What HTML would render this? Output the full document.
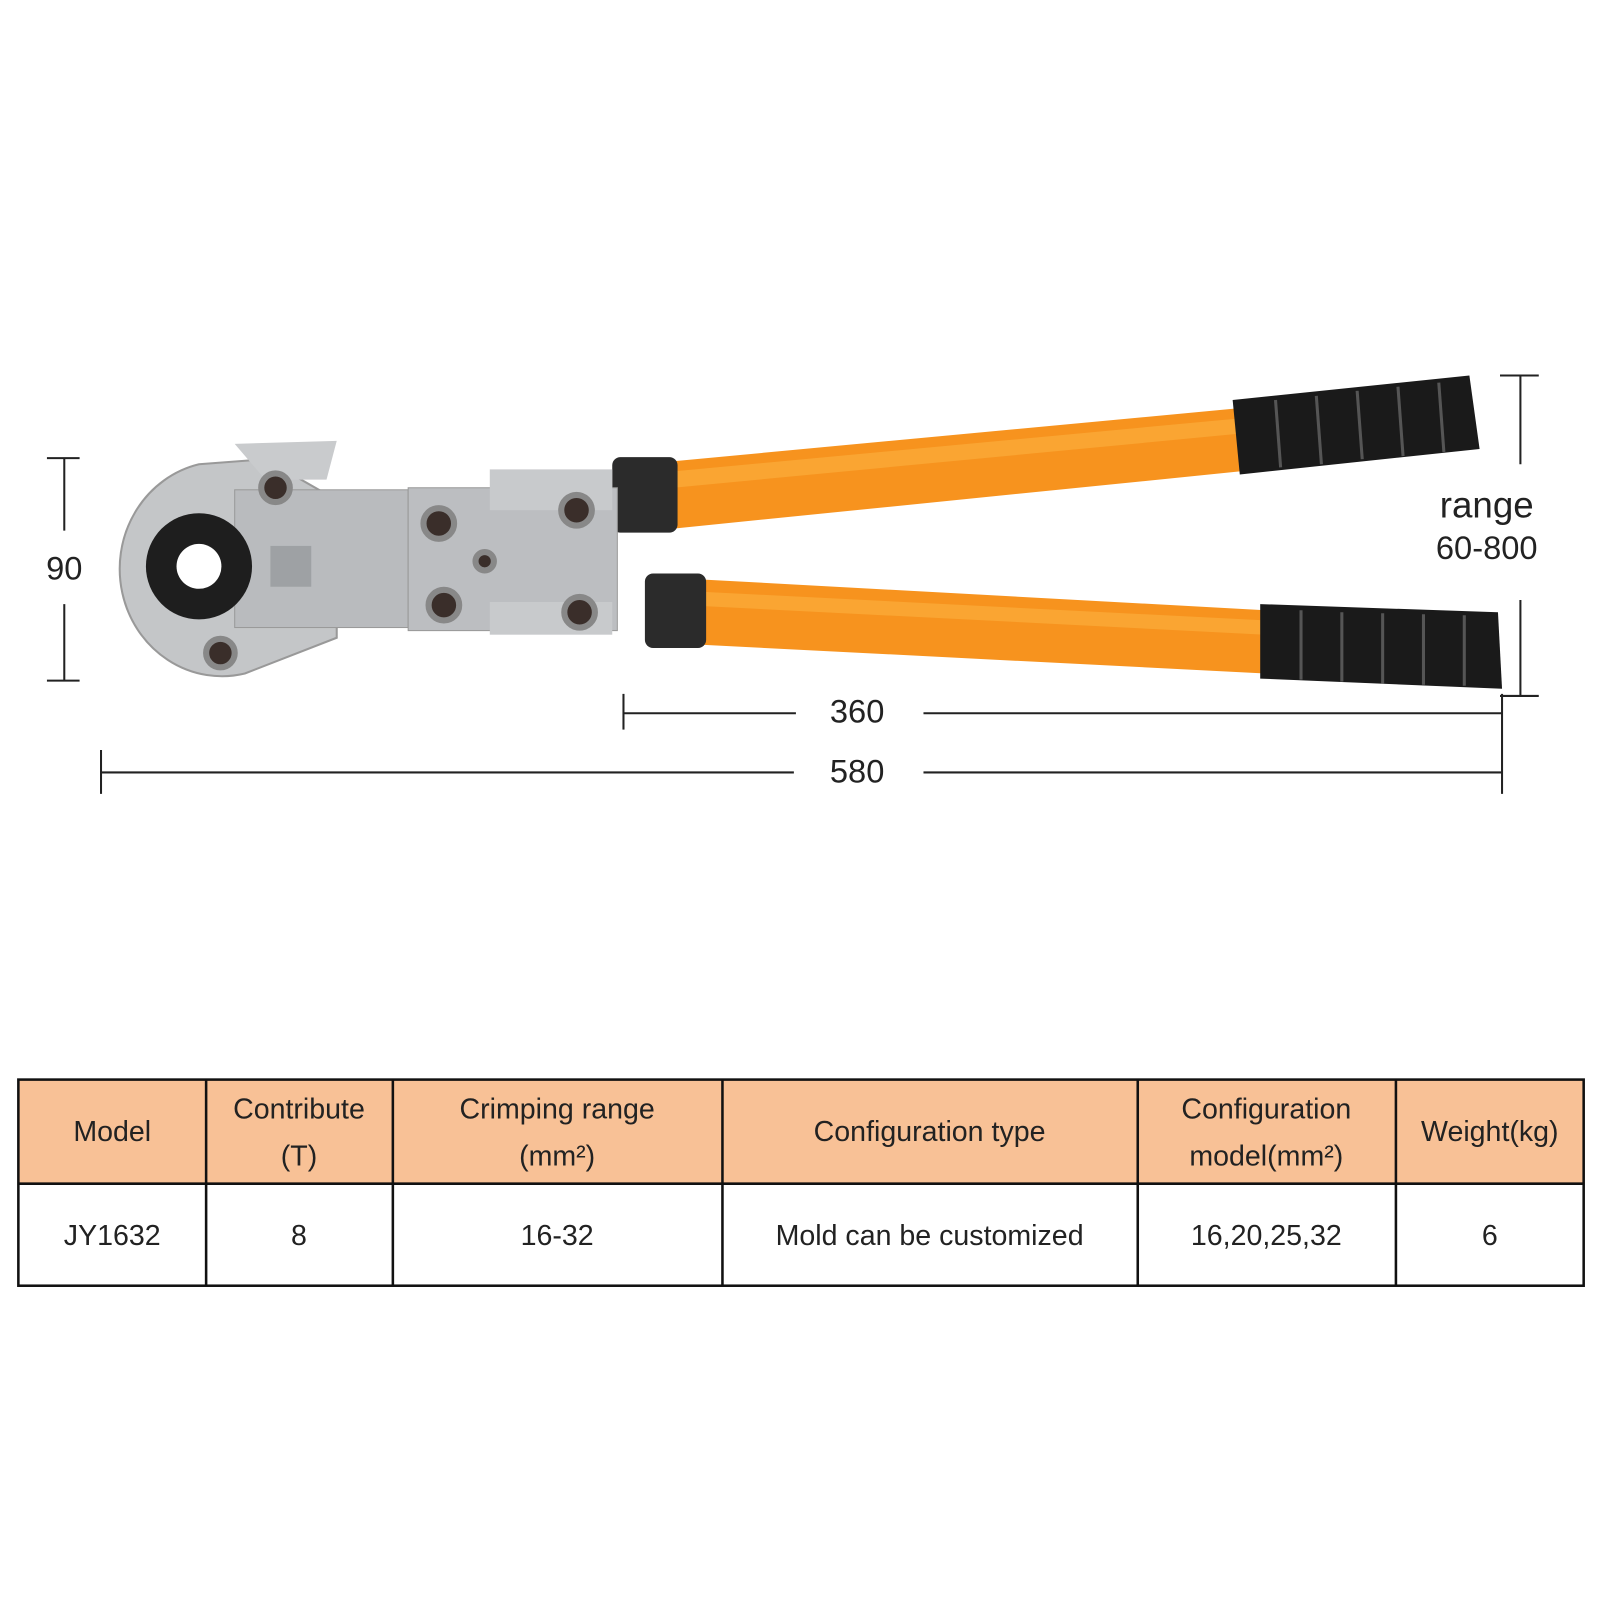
<!DOCTYPE html>
<html><head><meta charset="utf-8"><style>html,body{margin:0;padding:0;background:#fff}svg{display:block}</style></head>
<body>
<svg width="1600" height="1600" viewBox="0 0 1568 1568" xmlns="http://www.w3.org/2000/svg" font-family="Liberation Sans, sans-serif">
<rect width="1568" height="1568" fill="#fff"/>
<!-- dimension lines -->
<g stroke="#222" stroke-width="2" fill="none">
<line x1="63" y1="449" x2="63" y2="520"/><line x1="63" y1="592" x2="63" y2="667"/>
<line x1="46" y1="449" x2="78" y2="449"/><line x1="46" y1="667" x2="78" y2="667"/>
<line x1="1490" y1="368" x2="1490" y2="455"/><line x1="1490" y1="588" x2="1490" y2="682"/>
<line x1="1470" y1="368" x2="1508" y2="368"/><line x1="1470" y1="682" x2="1508" y2="682"/>
<line x1="611" y1="680" x2="611" y2="715"/><line x1="611" y1="699" x2="780" y2="699"/><line x1="905" y1="699" x2="1472" y2="699"/>
<line x1="1472" y1="680" x2="1472" y2="778"/>
<line x1="99" y1="735" x2="99" y2="778"/><line x1="99" y1="757" x2="778" y2="757"/><line x1="905" y1="757" x2="1472" y2="757"/>
</g>
<g fill="#222" font-size="32" text-anchor="middle">
<text x="63" y="568">90</text>
<text x="840" y="708">360</text>
<text x="840" y="767">580</text>
<text x="1457" y="507" font-size="36">range</text>
<text x="1457" y="548">60-800</text>
</g>
<!-- handles -->
<polygon points="660,452 1215,400 1215,462 660,518" fill="#f7931e"/>
<polygon points="660,462 1215,410 1215,425 660,478" fill="#fbb040" opacity="0.6"/>
<polygon points="1208,392 1440,368 1450,440 1215,465" fill="#1a1a1a"/>
<rect x="600" y="448" width="64" height="74" rx="8" fill="#2b2b2b"/>
<polygon points="690,568 1240,598 1240,660 690,632" fill="#f7931e"/>
<polygon points="690,580 1240,608 1240,622 690,594" fill="#fbb040" opacity="0.6"/>
<polygon points="1235,592 1468,600 1472,675 1235,665" fill="#1a1a1a"/>
<rect x="632" y="562" width="60" height="73" rx="8" fill="#2b2b2b"/>
<g stroke="#555" stroke-width="3">
<line x1="1250" y1="392" x2="1255" y2="458"/><line x1="1290" y1="388" x2="1295" y2="455"/><line x1="1330" y1="383" x2="1335" y2="450"/><line x1="1370" y1="379" x2="1375" y2="447"/><line x1="1410" y1="375" x2="1415" y2="443"/>
<line x1="1275" y1="598" x2="1275" y2="666"/><line x1="1315" y1="600" x2="1315" y2="668"/><line x1="1355" y1="601" x2="1355" y2="670"/><line x1="1395" y1="602" x2="1395" y2="671"/><line x1="1435" y1="603" x2="1435" y2="672"/>
</g>
<!-- metal head -->
<path d="M195,455 A100,105 0 1 0 240,660 L330,625 L330,490 L260,450 Z" fill="#c4c6c8" stroke="#999" stroke-width="2"/>
<polygon points="230,435 330,432 320,470 260,470" fill="#c9cbcd"/>
<rect x="230" y="480" width="170" height="135" fill="#b9bbbe" stroke="#999"/>
<rect x="265" y="535" width="40" height="40" fill="#9ea1a4"/>
<rect x="400" y="478" width="205" height="140" fill="#bcbec1" stroke="#999"/>
<rect x="480" y="460" width="120" height="40" fill="#c8cacc"/>
<rect x="480" y="590" width="120" height="32" fill="#c8cacc"/>
<circle cx="195" cy="555" r="52" fill="#1e1e1e"/>
<circle cx="195" cy="555" r="22" fill="#fff"/>
<g fill="#3a2e2a" stroke="#888" stroke-width="6">
<circle cx="270" cy="478" r="14"/><circle cx="216" cy="640" r="14"/>
<circle cx="430" cy="513" r="15"/><circle cx="565" cy="500" r="15"/>
<circle cx="435" cy="593" r="15"/><circle cx="568" cy="600" r="15"/>
<circle cx="475" cy="550" r="9"/>
</g>
<!-- table -->
<rect x="18" y="1058" width="1534" height="102" fill="#f8c196"/>
<g stroke="#111" stroke-width="2.5" fill="none">
<rect x="18" y="1058" width="1534" height="202"/>
<line x1="18" y1="1160" x2="1552" y2="1160"/>
<line x1="202" y1="1058" x2="202" y2="1260"/><line x1="385" y1="1058" x2="385" y2="1260"/>
<line x1="708" y1="1058" x2="708" y2="1260"/><line x1="1115" y1="1058" x2="1115" y2="1260"/>
<line x1="1368" y1="1058" x2="1368" y2="1260"/>
</g>
<g fill="#222" font-size="28" text-anchor="middle">
<text x="110" y="1118">Model</text>
<text x="293" y="1096">Contribute</text><text x="293" y="1142">(T)</text>
<text x="546" y="1096">Crimping range</text><text x="546" y="1142">(mm²)</text>
<text x="911" y="1118">Configuration type</text>
<text x="1241" y="1096">Configuration</text><text x="1241" y="1142">model(mm²)</text>
<text x="1460" y="1118">Weight(kg)</text>
<text x="110" y="1220">JY1632</text>
<text x="293" y="1220">8</text>
<text x="546" y="1220">16-32</text>
<text x="911" y="1220">Mold can be customized</text>
<text x="1241" y="1220">16,20,25,32</text>
<text x="1460" y="1220">6</text>
</g>
</svg>
</body></html>
